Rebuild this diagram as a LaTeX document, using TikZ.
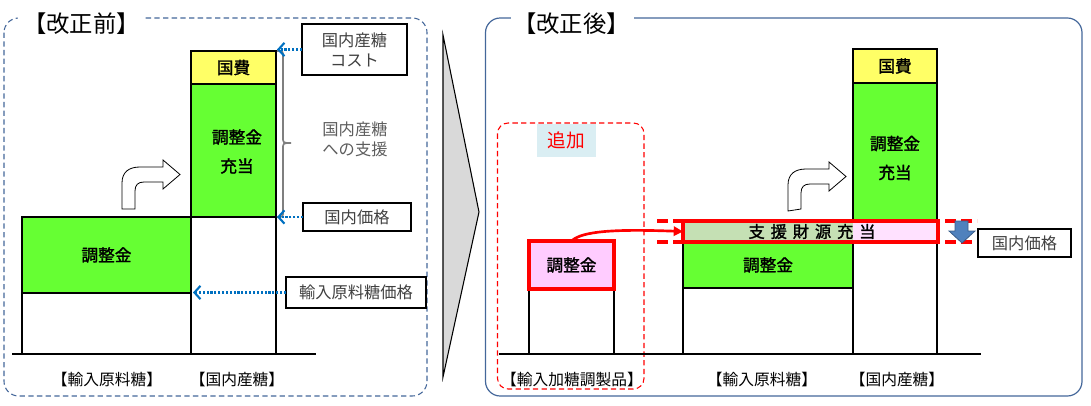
\documentclass[tikz,border=0pt]{standalone}
\usepackage{fontspec}
\setmainfont{Noto Sans CJK JP}[AutoFakeBold=1.6]
\usetikzlibrary{fit,arrows.meta,calc}
\definecolor{panelc}{HTML}{44679A}
\definecolor{barg}{HTML}{66FF33}
\definecolor{bary}{HTML}{FFFF66}
\definecolor{pinkbox}{HTML}{FFCCFF}
\definecolor{bandpink}{HTML}{FFE1FF}
\definecolor{bandgreen}{HTML}{C5E0B4}
\definecolor{addblue}{HTML}{DAEEF3}
\definecolor{arrowblue}{HTML}{4F81BD}
\definecolor{arrowblueD}{HTML}{385D8A}
\definecolor{dotblue}{HTML}{0070C0}
\definecolor{chev}{HTML}{D9D9D9}
\definecolor{txtg}{HTML}{404040}
\definecolor{bracec}{HTML}{7F7F7F}
\begin{document}
\begin{tikzpicture}[x=0.75pt,y=-0.75pt,
  every node/.style={inner sep=0pt, outer sep=0pt},
  bar/.style={draw=black, line width=0.8pt, inner sep=0pt},
  bartext/.style={font=\fontsize{12.5}{21.75}\selectfont\bfseries, align=center},
  callout/.style={draw=black, line width=0.8pt, fill=white, inner sep=0pt},
  callouttext/.style={text=txtg, font=\fontsize{12.2}{15}\selectfont, align=center},
  dotarrow/.style={dotblue, line width=1.8pt, dash pattern=on 1.6pt off 1.3pt,
     -{Straight Barb[length=4.5pt,width=10pt,line width=1.6pt]}},
  titlebg/.style={fill=white, minimum height=20pt},
  titletext/.style={font=\fontsize{17.5}{20}\selectfont},
  bottomlbl/.style={font=\fontsize{11.8}{13}\selectfont},
  bent/.style={draw=black, line width=0.6pt, fill=white}
]
\useasboundingbox (0,0) rectangle (1091,406);

%================ LEFT PANEL =================
\draw[panelc, line width=0.8pt, dash pattern=on 4pt off 2.5pt, rounded corners=11pt] (4,18) rectangle (427,396);
\node[titlebg, minimum width=94pt] (titleLbg) at (80.5,24) {};
\node[titletext] (titleL) at (81.5,24) {【改正前】};

% bars
\node[bar, fill=barg, fit={(22,217)(191,293)}] (adjL) {};
\node[bartext] (adjLt) at (adjL) {調整金};
\node[bar, fill=white, fit={(22,293)(191,354)}] (baseL) {};
\node[bar, fill=bary, fit={(191,51)(276,84)}] (kokuhiL) {};
\node[bartext] (kokuhiLt) at (kokuhiL) {国費};
\node[bar, fill=barg, fit={(191,84)(276,217)}] (juutouL) {};
\node[bartext] (juutouLt) at (237,151.5) {調整金\\充当};
\node[bar, fill=white, fit={(191,217)(276,354)}] (domL) {};
\coordinate (axL1) at (12,354);
\coordinate (axL2) at (316,354);
\draw[line width=2pt] (axL1) -- (axL2);

% brace
\draw[bracec, line width=1.3pt] (277,51) .. controls (283,51) .. (283,57) -- (283,137)
   .. controls (283,143) .. (291,143) .. controls (283,143) .. (283,149) -- (283,211)
   .. controls (283,217) .. (277,217);
\node[callouttext, text=txtg!85] (support) at (355,139) {国内産糖\\への支援};

% callouts
\node[callout, fit={(302,24)(407,75)}] (cost) {};
\node[callouttext] (costt) at (cost) {国内産糖\\コスト};
\node[callout, fit={(303,203)(411,231)}] (priceL) {};
\node[callouttext] (priceLt) at (priceL) {国内価格};
\node[callout, fit={(286,277)(426,308)}] (impprice) {};
\node[callouttext] (imppricet) at (impprice) {輸入原料糖価格};
\draw[dotarrow] (cost.west) -- ($(cost.west -| kokuhiL.east)+(1,0)$);
\draw[dotarrow] (priceL.west) -- ($(priceL.west -| juutouL.east)+(1,0)$);
\draw[dotarrow] (impprice.west) -- ($(impprice.west -| domL.west)+(2,0)$);

% bent arrow
\draw[bent] (122,209) -- (122,183) .. controls (122,172) and (129,167) .. (140,167) -- (163,167)
  -- (163,160) -- (180,174.5) -- (163,189) -- (163,182) -- (144,182)
  .. controls (138,182) and (135,185) .. (135,191) -- (135,209) -- cycle;

\node[bottomlbl] (lblL1) at (107,380) {【輸入原料糖】};
\node[bottomlbl] (lblL2) at (237,380) {【国内産糖】};

%================ CHEVRON =================
\draw[fill=chev, draw=black, line width=0.8pt] (443,35) -- (479,212) -- (443,377) -- cycle;

%================ RIGHT PANEL =================
\draw[panelc, line width=0.9pt, rounded corners=11pt] (485.5,18) rectangle (1082,396);
\node[titlebg, minimum width=92pt] (titleRbg) at (572.5,24) {};
\node[titletext] (titleR) at (571.5,24) {【改正後】};

% added region
\draw[red, line width=0.8pt, dash pattern=on 4pt off 2.5pt, rounded corners=8pt] (497.5,123) rectangle (644,389);
\node[fill=addblue, fit={(536.5,124)(596,157)}] (add) {};
\node[text=red, font=\fontsize{14}{16}\selectfont] (addt) at (add) {追加};

\node[bar, fill=white, fit={(529,289)(614,354)}] (baseP) {};
\node[draw=red, line width=2.3pt, fill=pinkbox, fit={(529,241)(614,289)}] (pk) {};
\node[bartext] (pkt) at (pk) {調整金};

% middle bar
\node[bar, fill=barg, fit={(683,242)(853,288)}] (adjM) {};
\node[bartext] (adjMt) at (adjM) {調整金};
\node[bar, fill=white, fit={(683,288)(853,354)}] (baseM) {};

% right bar
\node[bar, fill=bary, fit={(853,49)(937,83)}] (kokuhiR) {};
\node[bartext] (kokuhiRt) at (kokuhiR) {国費};
\node[bar, fill=barg, fit={(853,83)(937,221)}] (juutouR) {};
\node[bartext] (juutouRt) at (895,158) {調整金\\充当};
\node[bar, fill=white, fit={(853,242)(937,354)}] (domR) {};

% band
\fill[bandgreen] (683,221) rectangle (853,242);
\fill[bandpink] (853,221) rectangle (938,242);
\coordinate (dl1) at (657,221);
\coordinate (dr1) at (977,221);
\coordinate (dl2) at (657,242);
\coordinate (dr2) at (977,242);
\draw[red, line width=2.4pt, dash pattern=on 8pt off 4pt] (dl1) -- (dr1);
\draw[red, line width=2.4pt, dash pattern=on 8pt off 4pt] (dl2) -- (dr2);
\node[draw=red, line width=2.4pt, fit={(683,221)(938,242)}] (band) {};
\node[font=\fontsize{12.2}{13}\selectfont\bfseries] (bandt) at (812,231.5)
  {支\hspace{4.4pt}援\hspace{4.4pt}財\hspace{4.4pt}源\hspace{4.4pt}充\hspace{4.4pt}当};

% blue down arrow
\draw[fill=arrowblue, draw=arrowblueD, line width=0.6pt] (955,221) -- (968,221) -- (968,231) -- (975,231)
  -- (962,243) -- (949,231) -- (955,231) -- cycle;
\node[callout, fit={(978,229)(1071,257)}] (priceR) {};
\node[callouttext] (priceRt) at (priceR) {国内価格};

\coordinate (axR1) at (499,354);
\coordinate (axR2) at (981,354);
\draw[line width=1pt] (axR1) -- (axR2);

% red curved arrow
\draw[red, line width=2pt, -{Triangle[length=7pt,width=7pt]}] (pk.north) .. controls (582,231) and (615,229) .. (band.west);

% bent arrow right
\begin{scope}[shift={(666,2)}]
\draw[bent] (122,209) -- (122,183) .. controls (122,172) and (129,167) .. (140,167) -- (163,167)
  -- (163,160) -- (180,174.5) -- (163,189) -- (163,182) -- (144,182)
  .. controls (138,182) and (135,185) .. (135,191) -- (135,207) -- cycle;
\end{scope}

\node[bottomlbl] (lblR1) at (572,380) {【輸入加糖調製品】};
\node[bottomlbl] (lblR2) at (762,380) {【輸入原料糖】};
\node[bottomlbl] (lblR3) at (897,380) {【国内産糖】};
\end{tikzpicture}
\end{document}
